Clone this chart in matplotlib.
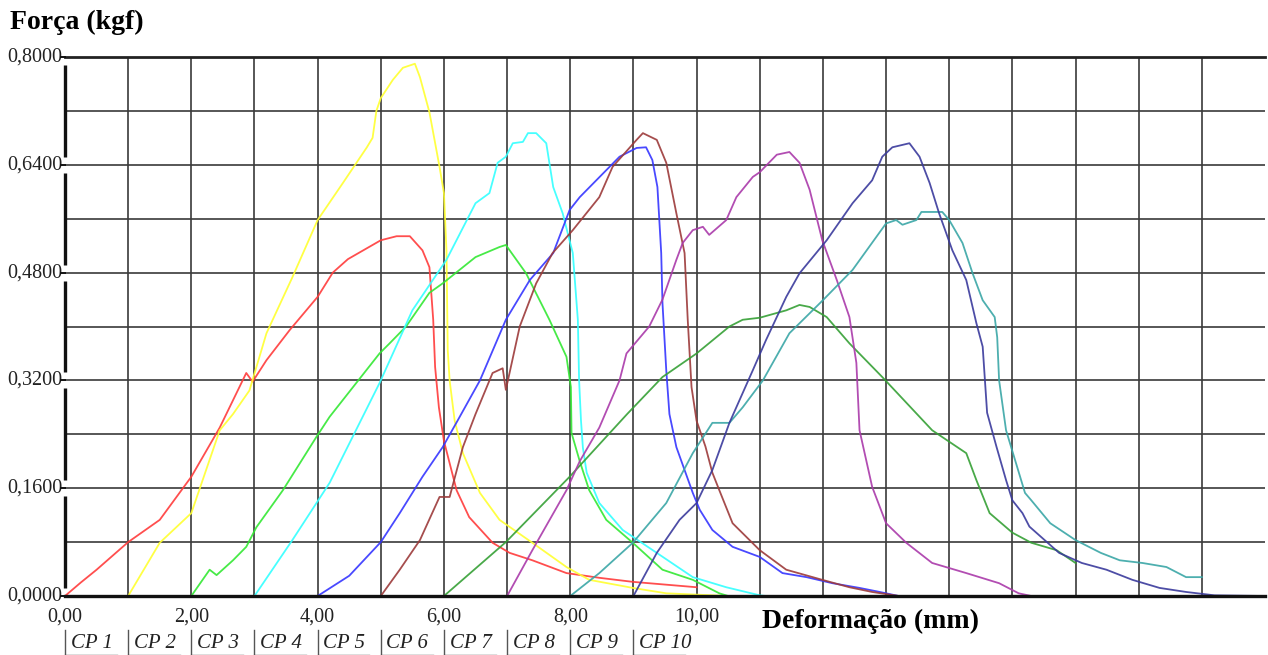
import matplotlib
matplotlib.use("Agg")
import matplotlib.pyplot as plt
import matplotlib.transforms as mtransforms

# ---------------------------------------------------------------------------
# Data (deformation in mm, force in kgf)
# ---------------------------------------------------------------------------
x_cp1 = [0, 0.25, 0.5, 1.0, 1.5, 2.0, 2.45, 2.87, 2.97, 3.19, 3.56, 4.0, 4.24, 4.48, 5.0, 5.25,
         5.46, 5.66, 5.77, 5.83, 5.86, 5.92, 6.0, 6.2, 6.4, 6.77, 7.04, 7.4, 7.94, 8.46, 8.99, 10.0]
y_cp1 = [0, 0.02, 0.039, 0.08, 0.113, 0.177, 0.25, 0.331, 0.318, 0.35, 0.395, 0.444, 0.48, 0.50, 0.528, 0.534,
         0.534, 0.513, 0.488, 0.41, 0.34, 0.28, 0.23, 0.157, 0.117, 0.079, 0.064, 0.053, 0.034, 0.027, 0.021, 0.013]

x_cp2 = [1.0, 1.5, 2.0, 2.45, 2.66, 2.92, 3.19, 3.6, 4.0, 4.4, 4.78, 4.87, 4.93, 5.0, 5.19, 5.35, 5.54,
         5.62, 5.77, 5.93, 6.0, 6.04, 6.06, 6.09, 6.17, 6.3, 6.57, 6.88, 7.4, 7.94, 8.3, 8.99, 9.52, 10.5]
y_cp2 = [0, 0.079, 0.123, 0.246, 0.27, 0.305, 0.39, 0.473, 0.558, 0.613, 0.666, 0.68, 0.72, 0.739, 0.766, 0.784, 0.79,
         0.77, 0.718, 0.637, 0.598, 0.513, 0.365, 0.32, 0.26, 0.212, 0.153, 0.113, 0.079, 0.043, 0.024, 0.012, 0.004, 0.0]

x_cp3 = [2.0, 2.29, 2.4, 2.66, 2.87, 3.03, 3.45, 3.98, 4.19, 4.98, 5.14, 5.4, 5.77, 5.98, 6.5, 6.88, 6.98,
         7.3, 7.67, 7.94, 8.01, 8.02, 8.15, 8.3, 8.57, 8.99, 9.46, 9.94, 10.36, 10.5]
y_cp3 = [0, 0.039, 0.031, 0.053, 0.073, 0.102, 0.157, 0.236, 0.266, 0.36, 0.375, 0.40, 0.45, 0.464, 0.503, 0.518, 0.521,
         0.479, 0.41, 0.355, 0.31, 0.242, 0.20, 0.157, 0.113, 0.079, 0.039, 0.024, 0.004, 0.0]

x_cp4 = [3.0, 3.6, 4.19, 4.98, 5.5, 6.04, 6.5, 6.72, 6.85, 6.98, 7.09, 7.25, 7.33, 7.46, 7.62, 7.73, 7.88,
         8.04, 8.12, 8.14, 8.17, 8.2, 8.26, 8.46, 8.83, 9.37, 9.94, 10.47, 11.0, 11.1]
y_cp4 = [0, 0.083, 0.168, 0.316, 0.424, 0.499, 0.583, 0.598, 0.643, 0.652, 0.672, 0.674, 0.687, 0.687, 0.672, 0.607, 0.568,
         0.509, 0.41, 0.32, 0.26, 0.22, 0.183, 0.138, 0.098, 0.064, 0.028, 0.013, 0.001, 0.0]

x_cp5 = [4.0, 4.5, 5.0, 5.3, 5.66, 5.98, 6.22, 6.57, 6.98, 7.36, 7.73, 7.99, 8.15, 8.57, 8.78, 9.05, 9.2, 9.3,
         9.38, 9.44, 9.46, 9.52, 9.57, 9.68, 9.94, 10.05, 10.25, 10.57, 11.0, 11.36, 11.74, 12.15, 12.58, 12.9, 13.2]
y_cp5 = [0, 0.03, 0.08, 0.123, 0.177, 0.221, 0.261, 0.32, 0.41, 0.469, 0.509, 0.573, 0.592, 0.632, 0.652, 0.665, 0.666, 0.647,
         0.607, 0.509, 0.435, 0.335, 0.27, 0.221, 0.153, 0.128, 0.098, 0.073, 0.058, 0.034, 0.028, 0.019, 0.012, 0.006, 0.0]

x_cp6 = [5.0, 5.3, 5.62, 5.93, 6.09, 6.3, 6.5, 6.77, 6.93, 6.98, 7.2, 7.46, 7.72, 8.04, 8.46, 8.67, 9.05, 9.15,
         9.37, 9.52, 9.68, 9.81, 9.86, 9.92, 10.0, 10.14, 10.25, 10.36, 10.57, 11.0, 11.42, 11.99, 12.42, 12.78, 13.2]
y_cp6 = [0, 0.039, 0.083, 0.147, 0.147, 0.221, 0.27, 0.331, 0.338, 0.306, 0.40, 0.464, 0.509, 0.543, 0.592, 0.637, 0.677, 0.687,
         0.677, 0.643, 0.568, 0.509, 0.41, 0.31, 0.26, 0.222, 0.183, 0.157, 0.108, 0.068, 0.039, 0.024, 0.013, 0.006, 0.0]

x_cp7 = [6.0, 6.98, 7.99, 8.9, 9.46, 10.0, 10.52, 10.73, 11.0, 11.42, 11.63, 11.79, 12.06, 12.42, 12.94,
         13.53, 13.73, 14.27, 14.43, 14.64, 15.0, 15.3, 15.7, 16.0]
y_cp7 = [0, 0.08, 0.177, 0.27, 0.325, 0.36, 0.40, 0.41, 0.413, 0.424, 0.432, 0.429, 0.414, 0.375, 0.325,
         0.266, 0.246, 0.212, 0.172, 0.123, 0.094, 0.079, 0.068, 0.049]

x_cp8 = [7.0, 7.4, 7.94, 8.15, 8.46, 8.78, 8.89, 9.25, 9.46, 9.68, 9.78, 9.94, 10.1, 10.2, 10.47, 10.63, 10.89, 11.0,
         11.27, 11.47, 11.63, 11.79, 11.99, 12.22, 12.42, 12.53, 12.58, 12.78, 13.0, 13.32, 13.73, 14.27, 14.79, 15.1, 15.3, 15.9]
y_cp8 = [0, 0.068, 0.157, 0.2, 0.25, 0.32, 0.36, 0.40, 0.44, 0.499, 0.524, 0.543, 0.548, 0.536, 0.558, 0.592, 0.622, 0.629,
         0.655, 0.659, 0.643, 0.603, 0.528, 0.469, 0.414, 0.346, 0.246, 0.162, 0.108, 0.079, 0.049, 0.034, 0.019, 0.004, 0.0, 0.0]

x_cp9 = [8.0, 8.46, 8.99, 9.52, 9.94, 10.25, 10.52, 10.73, 11.05, 11.47, 12.0, 12.47, 13.0, 13.16, 13.26, 13.48, 13.56, 13.89,
         14.0, 14.21, 14.37, 14.53, 14.72, 14.76, 14.79, 14.9, 15.2, 15.3, 15.6, 16.0, 16.4, 16.7, 17.06, 17.44, 17.75, 18.0]
y_cp9 = [0, 0.034, 0.079, 0.138, 0.212, 0.257, 0.257, 0.28, 0.32, 0.39, 0.439, 0.484, 0.553, 0.558, 0.551, 0.558, 0.57, 0.57,
         0.558, 0.524, 0.479, 0.439, 0.414, 0.384, 0.32, 0.246, 0.153, 0.142, 0.108, 0.083, 0.064, 0.053, 0.049, 0.043, 0.028, 0.028]

x_cp10 = [9.0, 9.37, 9.73, 10.0, 10.25, 10.52, 10.89, 11.1, 11.42, 11.63, 12.06, 12.47, 12.78, 12.94, 13.1, 13.37, 13.53,
          13.69, 13.84, 14.05, 14.27, 14.43, 14.53, 14.6, 14.75, 14.9, 15.0, 15.16, 15.27, 15.74, 16.1, 16.49, 16.9, 17.33,
          17.75, 18.2, 19.0]
y_cp10 = [0, 0.064, 0.113, 0.138, 0.187, 0.257, 0.335, 0.38, 0.444, 0.479, 0.528, 0.583, 0.617, 0.652, 0.666, 0.672, 0.652,
          0.613, 0.568, 0.513, 0.469, 0.405, 0.37, 0.272, 0.221, 0.172, 0.142, 0.123, 0.103, 0.064, 0.049, 0.039, 0.024, 0.012,
          0.006, 0.001, 0.0]

SERIES = [
    ("CP 1", x_cp1, y_cp1, "#ff3b3b"),
    ("CP 2", x_cp2, y_cp2, "#ffff30"),
    ("CP 3", x_cp3, y_cp3, "#33e833"),
    ("CP 4", x_cp4, y_cp4, "#33ffff"),
    ("CP 5", x_cp5, y_cp5, "#3535ff"),
    ("CP 6", x_cp6, y_cp6, "#9c3a3a"),
    ("CP 7", x_cp7, y_cp7, "#35a035"),
    ("CP 8", x_cp8, y_cp8, "#aa3aaa"),
    ("CP 9", x_cp9, y_cp9, "#3aa6a6"),
    ("CP 10", x_cp10, y_cp10, "#3a3a9c"),
]

y_ticks = [0.0, 0.16, 0.32, 0.48, 0.64, 0.80]
y_ticklabels = ["0,0000", "0,1600", "0,3200", "0,4800", "0,6400", "0,8000"]
x_ticks = [0, 2, 4, 6, 8, 10]
x_ticklabels = ["0,00", "2,00", "4,00", "6,00", "8,00", "10,00"]

SERIF = "Liberation Serif"
GRID_C = "#3a3a3a"

fig = plt.figure(figsize=(12.68, 6.55), dpi=100)
ax = fig.add_axes([65 / 1268, 59 / 655, 1200 / 1268, 539 / 655])
ax.set_xlim(0, 19)
ax.set_ylim(0, 0.8)
for s in ax.spines.values():
    s.set_visible(False)
ax.set_xticks([])
ax.set_yticks([])

# grid
for gx in range(1, 19):
    ax.axvline(gx, color=GRID_C, linewidth=1.2, zorder=1)
for k in range(1, 10):
    ax.axhline(0.08 * k, color=GRID_C, linewidth=1.2, zorder=1)
ax.axhline(0.8, color="#222222", linewidth=2.0, zorder=1, clip_on=False)
ax.axhline(0.0, color="#111111", linewidth=2.4, zorder=4, clip_on=False)

# left axis broken around the labels
gap = 0.012
for lo, hi in zip(y_ticks[:-1], y_ticks[1:]):
    ax.plot([0, 0], [lo + gap, hi - gap], color="#111111", linewidth=2.4,
            solid_capstyle="butt", clip_on=False, zorder=4)
for yt in y_ticks:
    ax.plot([-0.06, 0.0], [yt, yt], color="#111111", linewidth=1.4, clip_on=False, zorder=4)

# curves
for name, xs, ys, col in SERIES:
    ax.plot(xs, ys, color=col, linewidth=1.3, zorder=3, alpha=0.9)

# tick labels
for yt, lab in zip(y_ticks, y_ticklabels):
    ax.text(-0.04, yt, lab, ha="right", va="center", fontsize=14.5, family=SERIF, color="#222222")
trans = mtransforms.blended_transform_factory(ax.transData, ax.transAxes)
for xt, lab in zip(x_ticks, x_ticklabels):
    ax.text(xt, -0.039, lab, ha="center", va="center", fontsize=14.5, family=SERIF,
            color="#222222", transform=trans)

# CP labels under the axis
for i, (name, xs, ys, col) in enumerate(SERIES):
    ax.text(i + 0.09, -0.088, name, ha="left", va="center", fontsize=15, family=SERIF,
            style="italic", color="#222222", transform=trans)
    ax.plot([i, i], [-0.064, -0.11], color="#555555", linewidth=1.0, transform=trans, clip_on=False)
    ax.plot([i, i + 0.82], [-0.11, -0.11], color="#555555", linewidth=1.0, transform=trans, clip_on=False)

fig.text(10 / 1268, 1 - 22 / 655, "Força (kgf)", ha="left", va="center", fontsize=20,
         fontweight="bold", family=SERIF)
fig.text(762 / 1268, 1 - 621 / 655, "Deformação (mm)", ha="left", va="center", fontsize=20,
         fontweight="bold", family=SERIF)

fig.savefig("out.png", dpi=100, facecolor="white")
